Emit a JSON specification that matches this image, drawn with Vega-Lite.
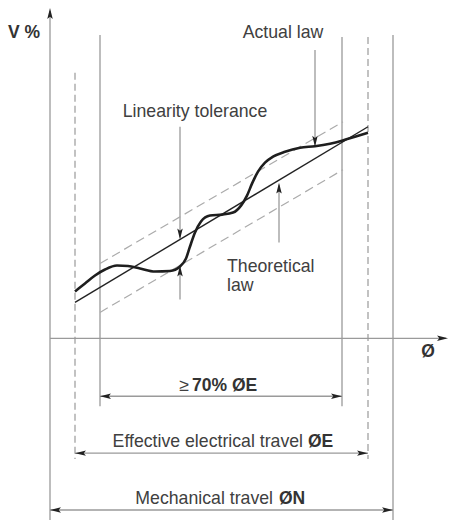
{
  "$schema": "https://vega.github.io/schema/vega-lite/v6.json",
  "width": 449,
  "height": 521,
  "autosize": {"type": "fit", "contains": "padding"},
  "padding": 0,
  "background": "white",
  "config": {"view": {"stroke": null}, "text": {"font": "Liberation Sans"}},
  "datasets": {
    "solid": [
      {"x": 0, "y": -182, "x2": 0, "y2": 328},
      {"x": 0, "y": 0, "x2": 396, "y2": 0},
      {"x": 50, "y": 304, "x2": 50, "y2": -68},
      {"x": 292, "y": 302, "x2": 292, "y2": -68},
      {"x": 343, "y": 304, "x2": 343, "y2": -182},
      {"x": 50, "y": -58, "x2": 292, "y2": -58},
      {"x": 25, "y": -115, "x2": 318, "y2": -115},
      {"x": 0, "y": -172, "x2": 343, "y2": -172},
      {"x": 265, "y": 289, "x2": 265, "y2": 194},
      {"x": 130, "y": 212, "x2": 130, "y2": 101},
      {"x": 130, "y": 39, "x2": 130, "y2": 71},
      {"x": 229, "y": 96, "x2": 229, "y2": 154}
    ],
    "dashedV": [
      {"x": 25, "y": 266, "x2": 25, "y2": -121},
      {"x": 318, "y": 302, "x2": 318, "y2": -121}
    ],
    "tolerance": [
      {"x": 50, "y": 75, "x2": 293, "y2": 217},
      {"x": 50, "y": 26, "x2": 293, "y2": 169}
    ],
    "theoretical": [
      {"x": 25, "y": 36, "x2": 318, "y2": 212}
    ],
    "actual": [
      {"x": 25, "y": 47}, {"x": 35, "y": 55}, {"x": 45, "y": 63}, {"x": 55, "y": 69},
      {"x": 67, "y": 73}, {"x": 78, "y": 72.5}, {"x": 90, "y": 70}, {"x": 105, "y": 67},
      {"x": 120, "y": 67.5}, {"x": 130, "y": 72}, {"x": 136, "y": 80}, {"x": 140, "y": 92},
      {"x": 145, "y": 106}, {"x": 151, "y": 117}, {"x": 160, "y": 123}, {"x": 172, "y": 124},
      {"x": 183, "y": 126}, {"x": 191, "y": 133}, {"x": 197, "y": 143}, {"x": 202, "y": 155},
      {"x": 208, "y": 167}, {"x": 215, "y": 176}, {"x": 223, "y": 182}, {"x": 235, "y": 187},
      {"x": 250, "y": 191}, {"x": 265, "y": 192.5}, {"x": 280, "y": 195}, {"x": 292, "y": 198},
      {"x": 305, "y": 202}, {"x": 318, "y": 206}
    ],
    "arrows": [
      {"x": 0, "y": 331, "dir": "up"},
      {"x": 398, "y": 0, "dir": "right"},
      {"x": 50, "y": -58, "dir": "left"},
      {"x": 292, "y": -58, "dir": "right"},
      {"x": 25, "y": -115, "dir": "left"},
      {"x": 318, "y": -115, "dir": "right"},
      {"x": 0, "y": -172, "dir": "left"},
      {"x": 343, "y": -172, "dir": "right"},
      {"x": 265, "y": 192, "dir": "down"},
      {"x": 130, "y": 99, "dir": "down"},
      {"x": 130, "y": 73, "dir": "up"},
      {"x": 229, "y": 156, "dir": "up"}
    ],
    "textCenter": [
      {"x": 233, "y": 306, "label": "Actual law"},
      {"x": 145, "y": 227, "label": "Linearity tolerance"},
      {"x": 134, "y": -48, "label": "≥"}
    ],
    "textLeft": [
      {"x": 177, "y": 71, "label": "Theoretical"},
      {"x": 177, "y": 52, "label": "law"}
    ],
    "textRight": [
      {"x": 253, "y": -104, "label": "Effective electrical travel"},
      {"x": 223, "y": -161, "label": "Mechanical travel"}
    ],
    "boldLeft": [
      {"x": 142, "y": -48, "label": "70% ØE"},
      {"x": 258, "y": -104, "label": "ØE"},
      {"x": 229, "y": -161, "label": "ØN"}
    ],
    "boldCenter": [
      {"x": -26, "y": 306, "label": "V %"},
      {"x": 378, "y": -14, "label": "Ø"}
    ]
  },
  "encoding": {
    "x": {"field": "x", "type": "quantitative", "scale": {"domain": [-50, 399], "nice": false, "zero": false}, "axis": null},
    "y": {"field": "y", "type": "quantitative", "scale": {"domain": [-182, 339], "nice": false, "zero": false}, "axis": null}
  },
  "layer": [
    {
      "data": {"name": "solid"},
      "mark": {"type": "rule", "color": "#9a9a9a", "strokeWidth": 1.3},
      "encoding": {"x2": {"field": "x2"}, "y2": {"field": "y2"}}
    },
    {
      "data": {"name": "dashedV"},
      "mark": {"type": "rule", "color": "#9a9a9a", "strokeWidth": 1.2, "strokeDash": [7, 4]},
      "encoding": {"x2": {"field": "x2"}, "y2": {"field": "y2"}}
    },
    {
      "data": {"name": "tolerance"},
      "mark": {"type": "rule", "color": "#ababab", "strokeWidth": 1.2, "strokeDash": [9, 5]},
      "encoding": {"x2": {"field": "x2"}, "y2": {"field": "y2"}}
    },
    {
      "data": {"name": "theoretical"},
      "mark": {"type": "rule", "color": "#222222", "strokeWidth": 1.4},
      "encoding": {"x2": {"field": "x2"}, "y2": {"field": "y2"}}
    },
    {
      "data": {"name": "actual"},
      "mark": {"type": "line", "color": "#1e1e1e", "strokeWidth": 2.6, "interpolate": "monotone"},
      "encoding": {}
    },
    {
      "data": {"name": "arrows"},
      "mark": {"type": "point", "filled": true, "color": "#222222", "opacity": 1, "size": 120},
      "encoding": {
        "shape": {
          "field": "dir", "type": "nominal", "legend": null,
          "scale": {
            "domain": ["right", "left", "up", "down"],
            "range": [
              "M0,0L-2,-0.5L-1.6,0L-2,0.5Z",
              "M0,0L2,-0.5L1.6,0L2,0.5Z",
              "M0,0L-0.5,2L0,1.6L0.5,2Z",
              "M0,0L-0.5,-2L0,-1.6L0.5,-2Z"
            ]
          }
        }
      }
    },
    {
      "data": {"name": "textCenter"},
      "mark": {"type": "text", "fontSize": 17.7, "color": "#404040", "align": "center", "baseline": "middle"},
      "encoding": {"text": {"field": "label"}}
    },
    {
      "data": {"name": "textLeft"},
      "mark": {"type": "text", "fontSize": 17.7, "color": "#404040", "align": "left", "baseline": "middle"},
      "encoding": {"text": {"field": "label"}}
    },
    {
      "data": {"name": "textRight"},
      "mark": {"type": "text", "fontSize": 17.7, "color": "#404040", "align": "right", "baseline": "middle"},
      "encoding": {"text": {"field": "label"}}
    },
    {
      "data": {"name": "boldLeft"},
      "mark": {"type": "text", "fontSize": 17.5, "fontWeight": "bold", "color": "#333333", "align": "left", "baseline": "middle"},
      "encoding": {"text": {"field": "label"}}
    },
    {
      "data": {"name": "boldCenter"},
      "mark": {"type": "text", "fontSize": 17.5, "fontWeight": "bold", "color": "#333333", "align": "center", "baseline": "middle"},
      "encoding": {"text": {"field": "label"}}
    }
  ]
}
